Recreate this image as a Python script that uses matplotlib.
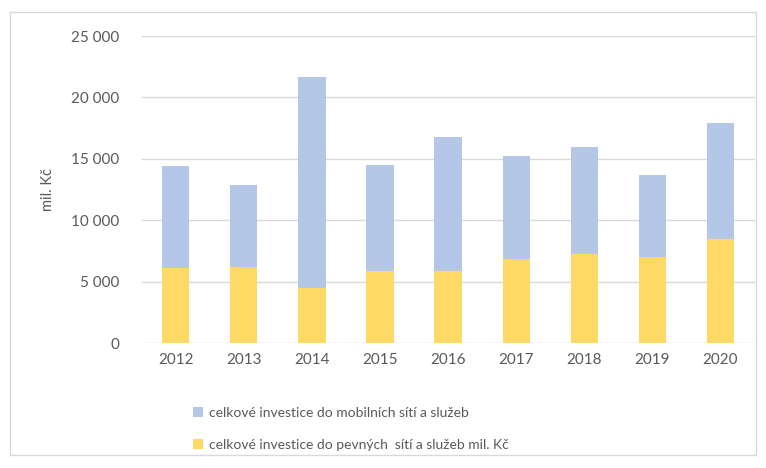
import matplotlib
matplotlib.use("Agg")
import matplotlib.pyplot as plt
from matplotlib.patches import Rectangle
from matplotlib.ticker import FuncFormatter

# investice do sítí (mil. Kč)
years = ["2012", "2013", "2014", "2015", "2016", "2017", "2018", "2019", "2020"]
fixed = [6150, 6200, 4450, 5900, 5900, 6850, 7250, 7000, 8500]
total = [14450, 12850, 21700, 14500, 16750, 15200, 15950, 13700, 17950]
mobile = [t - f for t, f in zip(total, fixed)]

blue = "#b4c7e7"
yellow = "#ffd966"
grey = "#595959"

plt.rcParams['font.family'] = ['Lato', 'DejaVu Sans']

fig = plt.figure(figsize=(7.66, 4.68), dpi=100)
fig.patches.append(Rectangle((10 / 766, 13 / 468), 746 / 766, 443 / 468,
                             transform=fig.transFigure, fill=False,
                             edgecolor="#d9d9d9", linewidth=1))

ax = fig.add_axes([0.185, 0.267, 0.8, 0.656])
x = range(len(years))
ax.bar(x, fixed, width=0.4, color=yellow, label="celkové investice do pevných  sítí a služeb mil. Kč", zorder=3)
ax.bar(x, mobile, width=0.4, bottom=fixed, color=blue, label="celkové investice do mobilních sítí a služeb", zorder=3)

ax.set_ylim(0, 25000)
ax.set_xlim(-0.5, len(years) - 0.5)
ax.set_yticks(range(0, 25001, 5000))
ax.yaxis.set_major_formatter(FuncFormatter(lambda v, p: f"{int(v):,}".replace(",", " ")))
ax.set_xticks(list(x))
ax.set_xticklabels(years)
ax.grid(axis="y", color="#d9d9d9", linewidth=1, zorder=0)
for s in ax.spines.values():
    s.set_visible(False)
ax.tick_params(length=0, colors=grey, labelsize=11)
ax.tick_params(axis="y", pad=16)
ax.tick_params(axis="x", pad=7)
ax.set_ylabel("mil. Kč", color=grey, fontsize=10.5, labelpad=12)

handles, labels = ax.get_legend_handles_labels()
fig.legend(handles[::-1], labels[::-1], loc="upper left", bbox_to_anchor=(0.245, 0.142),
           frameon=False, fontsize=10, labelcolor=grey, handlelength=0.7, handleheight=0.7,
           handletextpad=0.4, labelspacing=1.4, borderaxespad=0)

fig.savefig("out.png", dpi=100)
